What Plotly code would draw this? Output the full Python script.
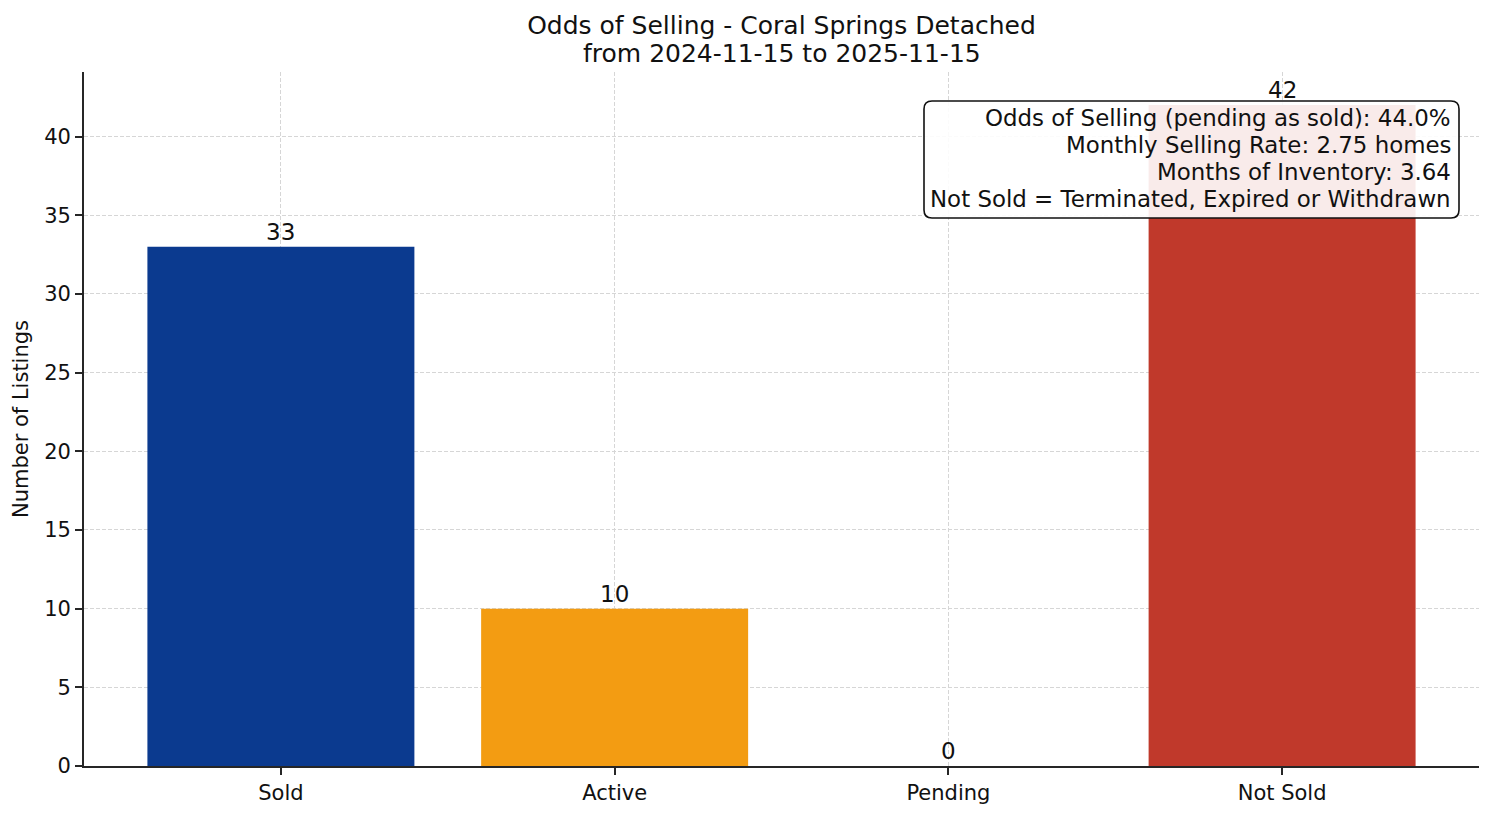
import plotly.graph_objects as go

# chart data
categories = ["Sold", "Active", "Pending", "Not Sold"]
counts = [33, 10, 0, 42]
bar_colors = ["#0b3a8f", "#f39c12", "#2e86c1", "#c0392b"]

title_lines = ["Odds of Selling - Coral Springs Detached", "from 2024-11-15 to 2025-11-15"]
stats_lines = [
    "Odds of Selling (pending as sold): 44.0%",
    "Monthly Selling Rate: 2.75 homes",
    "Months of Inventory: 3.64",
    "Not Sold = Terminated, Expired or Withdrawn",
]

FONT = "DejaVu Sans, Arial, sans-serif"
AXIS = "#262626"
GRID = "#d6d6d6"

W, H = 1486, 808
ML, MR, MT, MB = 76, 15, 64, 50
PW, PH = W - ML - MR, H - MT - MB


def px_x(px):
    # figure pixel -> paper x
    return (px - ML) / PW


def px_y(py):
    # figure pixel -> paper y
    return (H - MB - py) / PH


fig = go.Figure()
fig.add_trace(go.Bar(
    x=list(range(len(categories))),
    y=counts,
    width=0.8,
    marker=dict(color=bar_colors, line=dict(width=0)),
    hoverinfo="skip",
))

# value labels above each bar
annotations = [
    dict(x=i, y=v, text=str(v), xref="x", yref="y", showarrow=False,
         yanchor="bottom", font=dict(family=FONT, size=23, color="#111111"))
    for i, v in enumerate(counts)
]

# second title line (matplotlib-like tight line spacing)
annotations.append(dict(
    x=0.5, y=px_y(45), xref="paper", yref="paper", xanchor="center", yanchor="middle",
    text=title_lines[1], showarrow=False, font=dict(family=FONT, size=25, color="#111111"),
))

# stats box, top right (rounded frame + right-aligned lines)
bx0, bx1, by0, by1, rad = 916, 1451, 93, 210, 8
x0, x1 = px_x(bx0), px_x(bx1)
y0, y1 = px_y(by1), px_y(by0)
rx, ry = rad / PW, rad / PH
box_path = (
    f"M {x0 + rx},{y1} L {x1 - rx},{y1} Q {x1},{y1} {x1},{y1 - ry} "
    f"L {x1},{y0 + ry} Q {x1},{y0} {x1 - rx},{y0} "
    f"L {x0 + rx},{y0} Q {x0},{y0} {x0},{y0 + ry} "
    f"L {x0},{y1 - ry} Q {x0},{y1} {x0 + rx},{y1} Z"
)
shapes = [dict(type="path", path=box_path, xref="paper", yref="paper",
               fillcolor="rgba(255,255,255,0.9)", line=dict(color="#111111", width=1.6),
               layer="above")]

for i, line in enumerate(stats_lines):
    annotations.append(dict(
        x=px_x(1445), y=px_y(110 + 27 * i), xref="paper", yref="paper",
        xanchor="right", yanchor="middle", text=line, showarrow=False,
        font=dict(family=FONT, size=22.9, color="#111111"),
    ))

fig.update_layout(
    width=W, height=H,
    paper_bgcolor="white", plot_bgcolor="white",
    margin=dict(l=ML, r=MR, t=MT, b=MB, autoexpand=False),
    font=dict(family=FONT, size=21, color="#111111"),
    showlegend=False,
    title=dict(
        text=title_lines[0],
        x=0.5, xref="paper", xanchor="center",
        y=1 - 17 / H, yref="container", yanchor="middle",
        font=dict(family=FONT, size=25, color="#111111"),
    ),
    xaxis=dict(
        range=[-0.59, 3.59], automargin=False,
        tickmode="array", tickvals=list(range(len(categories))), ticktext=categories,
        ticks="outside", ticklen=7, tickwidth=1.5, tickcolor=AXIS,
        showline=True, linecolor=AXIS, linewidth=1.7,
        showgrid=True, gridcolor=GRID, gridwidth=1, griddash="4px,2px",
        zeroline=False, layer="above traces",
        tickfont=dict(size=21),
    ),
    yaxis=dict(
        range=[0, 44.1], automargin=False,
        tickmode="linear", tick0=0, dtick=5,
        ticks="outside", ticklen=7, tickwidth=1.5, tickcolor=AXIS,
        showline=True, linecolor=AXIS, linewidth=1.7,
        showgrid=True, gridcolor=GRID, gridwidth=1, griddash="4px,2px",
        zeroline=False, layer="above traces",
        title=dict(text="Number of Listings", standoff=10, font=dict(size=21)),
        tickfont=dict(size=21),
    ),
    shapes=shapes,
    annotations=annotations,
)

fig.write_html("out.html")
